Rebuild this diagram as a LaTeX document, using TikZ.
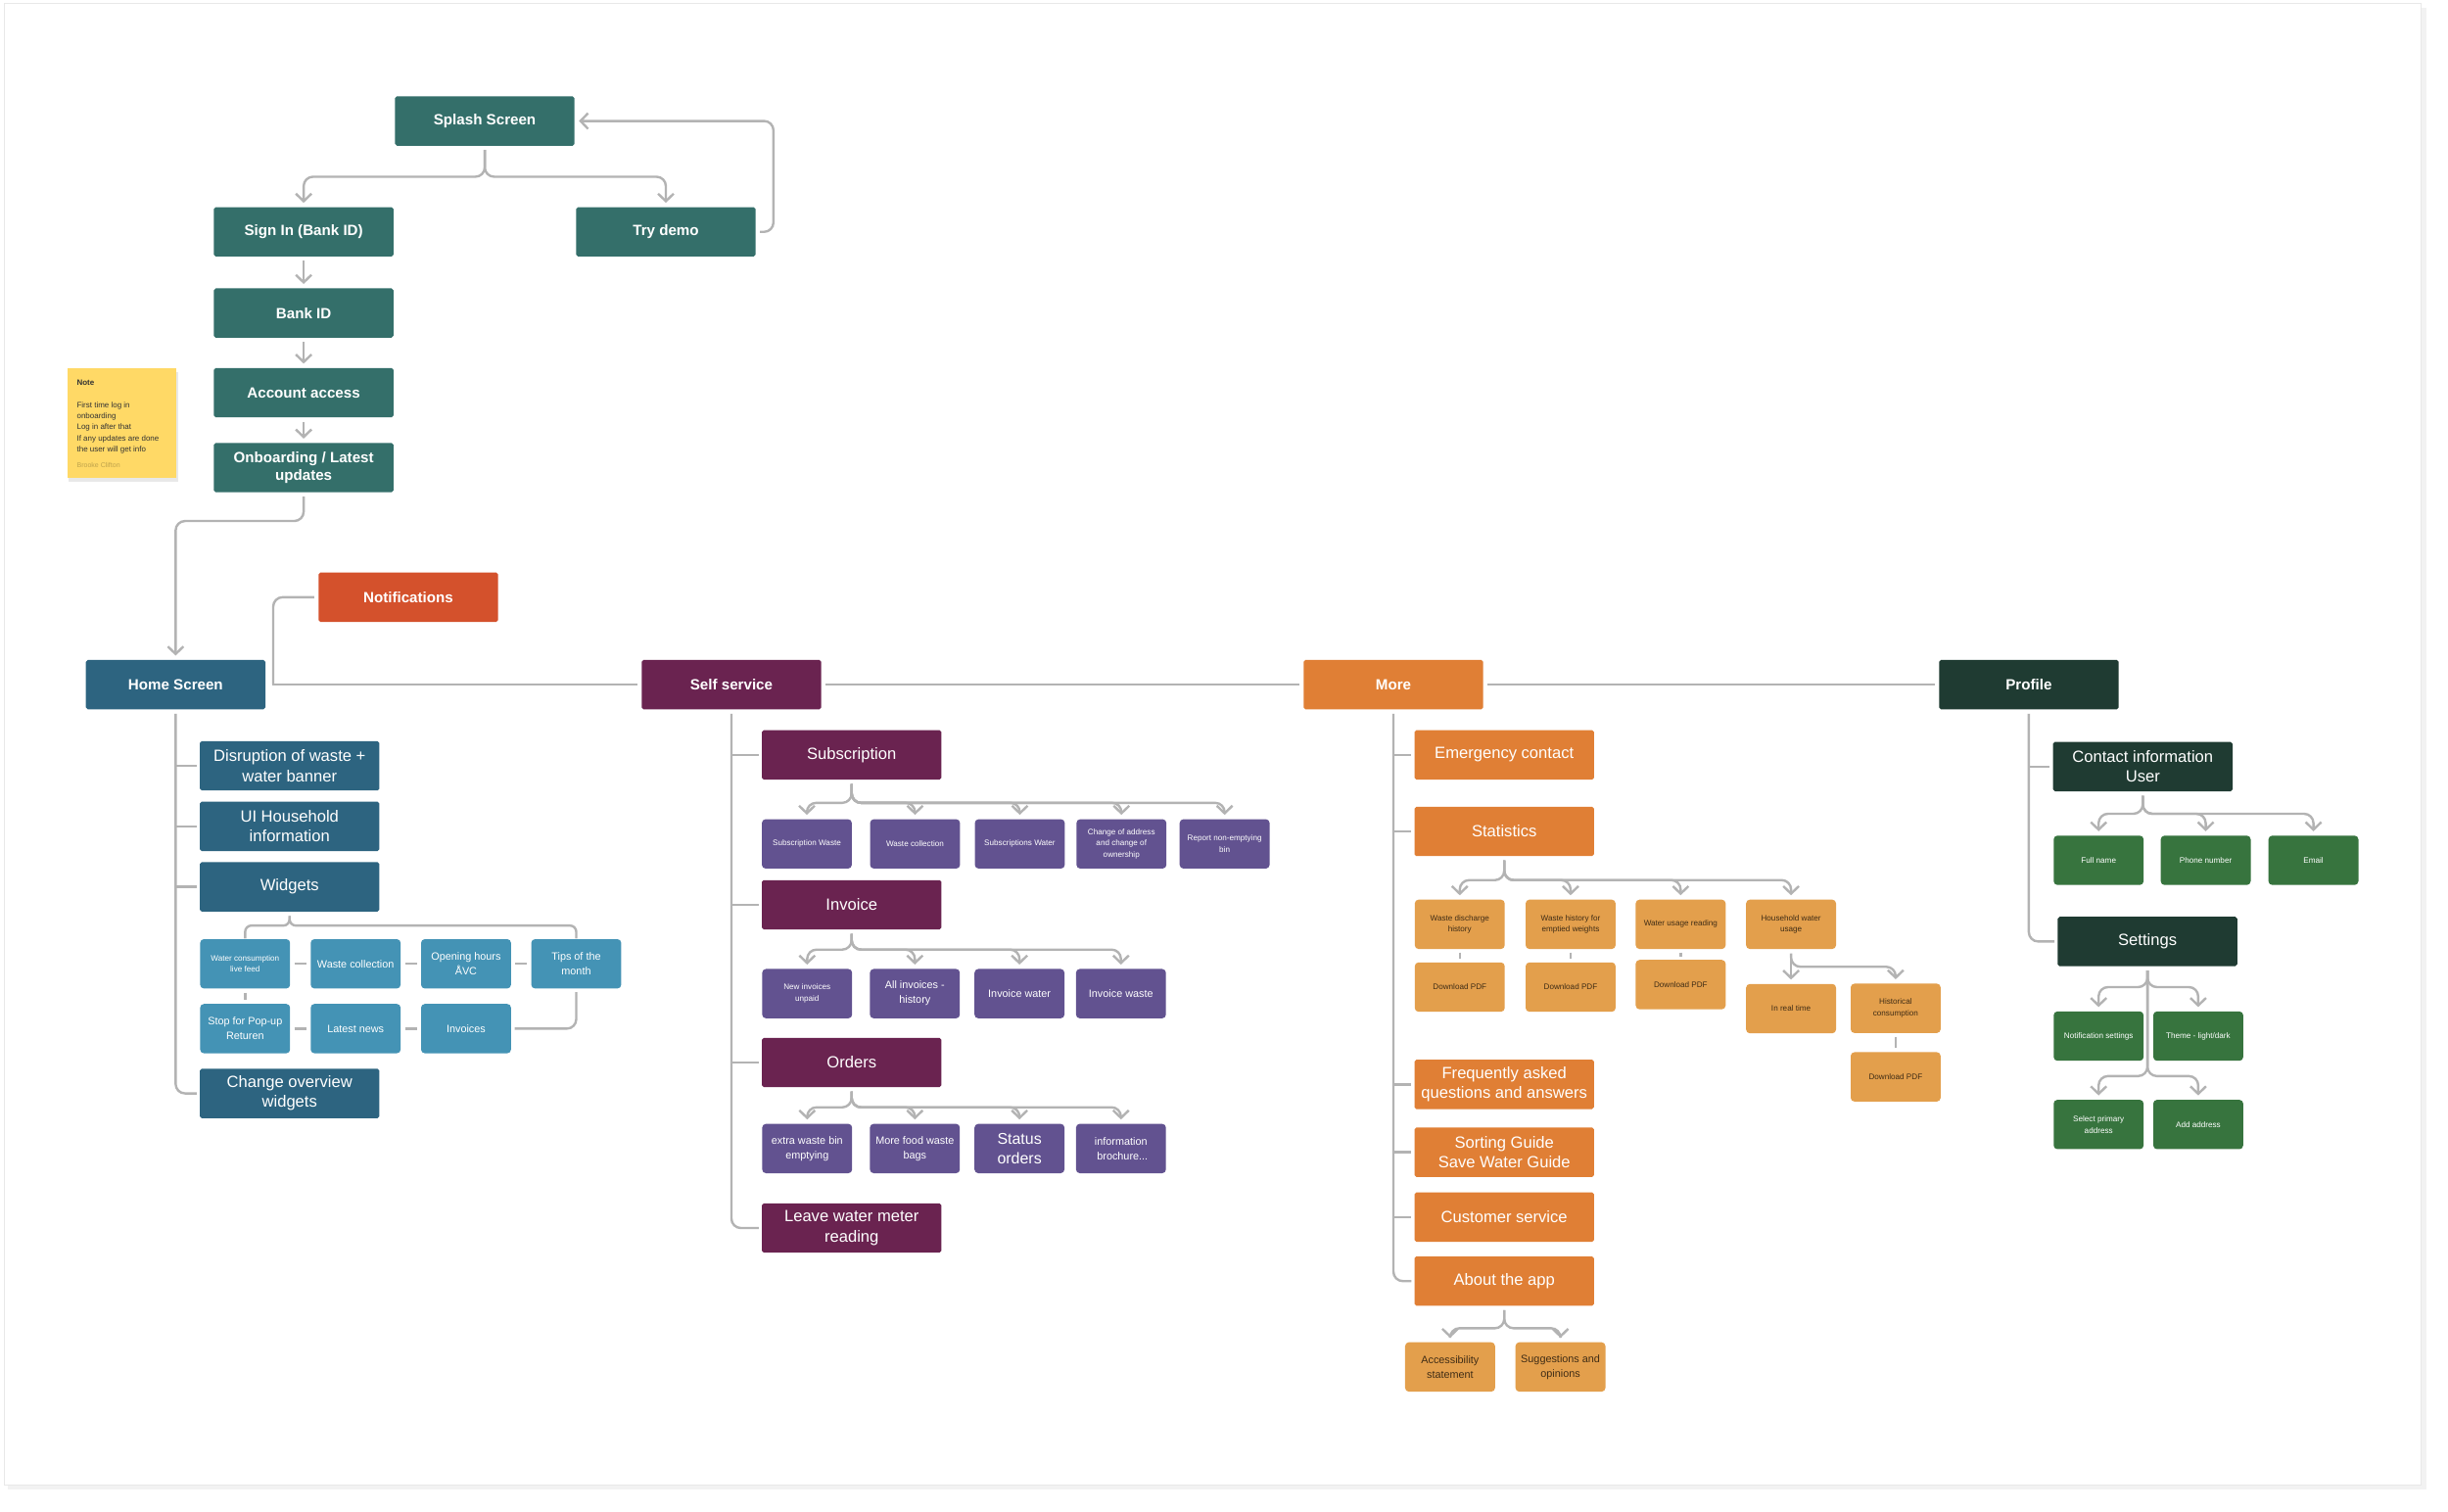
\documentclass[tikz,border=0pt]{standalone}
\usepackage{fontspec}
\setmainfont{Liberation Sans}
\usetikzlibrary{arrows.meta,calc,shadows}

\definecolor{cteal}{HTML}{346F6A}
\definecolor{chome}{HTML}{2D6480}
\definecolor{cwidget}{HTML}{4493B5}
\definecolor{cnotif}{HTML}{D4512C}
\definecolor{cself}{HTML}{6A2350}
\definecolor{csub}{HTML}{625290}
\definecolor{cmore}{HTML}{E07F35}
\definecolor{cstat}{HTML}{E39F4C}
\definecolor{cprof}{HTML}{1F3B32}
\definecolor{cgreen}{HTML}{37743E}
\definecolor{cline}{HTML}{B3B3B3}
\definecolor{cnote}{HTML}{FFD966}
\definecolor{cdarktext}{HTML}{3F2C15}

\newcommand\myfA{\fontsize{4.75}{5.6}\selectfont\bfseries}
\newcommand\myfB{\fontsize{5.2}{6.3}\selectfont}
\newcommand\myfC{\fontsize{3.4}{4.7}\selectfont}
\newcommand\myfD{\fontsize{2.55}{3.65}\selectfont}
\newcommand\myfS{\fontsize{5}{6.3}\selectfont}

\tikzset{
  box/.style={inner sep=0pt, align=center, text=white, minimum height=15.8pt},
  bigbox/.style={box, minimum width=57.5pt, rounded corners=0.6pt},
  leaf/.style={box, minimum width=28.8pt, rounded corners=1.2pt},
  topbox/.style={bigbox, fill=cteal, font=\myfA},
  wire/.style={draw=cline, line width=0.75pt, rounded corners=3pt},
  line/.style={wire, shorten <=1.2pt, shorten >=1.2pt},
  stub/.style={wire, shorten >=0.8pt},
  shortlink/.style={wire, shorten <=0.9pt, shorten >=0.9pt},
  arr/.style={line, -{Straight Barb[length=2.4pt,width=5pt]}},
}

\begin{document}
\begin{tikzpicture}[x=0.5pt,y=-0.5pt]
\useasboundingbox (0,0) rectangle (1568,968);
% canvas
\fill[black!5] (5,5) rectangle (1554,954);
\fill[white, draw=black!9, line width=0.3pt] (3,2) rectangle (1551,951);

% ---------- top flow ----------
\node[topbox] (splash) at (310.5,77.5) {Splash Screen};
\node[topbox] (signin) at (194.5,148.5) {Sign In (Bank ID)};
\node[topbox] (trydemo) at (426.5,148.5) {Try demo};
\node[topbox] (bankid) at (194.5,200.5) {Bank ID};
\node[topbox] (account) at (194.5,251.5) {Account access};
\node[topbox] (onb) at (194.5,299.5) {Onboarding / Latest\\updates};

\draw[arr] (splash.south) -- ++(0,19.5) -| (signin.north);
\draw[arr] (splash.south) -- ++(0,19.5) -| (trydemo.north);
\draw[arr] (trydemo.east) -- ++(11,0) |- (splash.east);
\draw[arr] (signin.south) -- (bankid.north);
\draw[arr] (bankid.south) -- (account.north);
\draw[arr] (account.south) -- (onb.north);

% note
\node[fill=cnote, minimum width=35pt, minimum height=35pt, inner sep=0pt,
      drop shadow={opacity=0.18, shadow xshift=0.6pt, shadow yshift=-1.2pt}] (note) at (78,271) {};
\node[anchor=west, inner sep=0pt, font=\fontsize{2.5}{3.4}\selectfont\bfseries, text=black!80] (notetitle) at (48.9,245.3) {Note};
\node[anchor=north west, align=left, inner sep=0pt, font=\fontsize{2.5}{3.5}\selectfont, text=black!80] (notetext) at (48.9,257.3)
  {First time log in\\onboarding\\Log in after that\\If any updates are done\\the user will get info};
\node[anchor=west, inner sep=0pt, font=\fontsize{2.2}{3}\selectfont, text=black!25!cnote] (noteauthor) at (48.9,297.9) {Brooke Clifton};

% ---------- main row ----------
\node[bigbox, fill=cnotif, font=\myfA] (notif) at (261.5,382.5) {Notifications};
\node[bigbox, fill=chome, font=\myfA] (home) at (112.5,438.5) {Home Screen};
\node[bigbox, fill=cself, font=\myfA] (self) at (468.5,438.5) {Self service};
\node[bigbox, fill=cmore, font=\myfA] (more) at (892.5,438.5) {More};
\node[bigbox, fill=cprof, font=\myfA] (profile) at (1299.5,438.5) {Profile};

\draw[arr] (onb.south) -- ++(0,18) -| (home.north);
\coordinate (nj) at (175,438.5);
\draw[wire, shorten <=1.2pt] (notif.west) -| (nj);
\draw[line, shorten <=2pt] (home.east) -- (self.west);
\draw[line] (self.east) -- (more.west);
\draw[line] (more.east) -- (profile.west);

% ---------- Home screen ----------
\node[bigbox, fill=chome, font=\myfB] (disr) at (185.5,490.5) {Disruption of waste +\\water banner};
\node[bigbox, fill=chome, font=\myfB] (uih) at (185.5,529.3) {UI Household\\information};
\node[bigbox, fill=chome, font=\myfB] (widgets) at (185.5,568) {Widgets};
\node[bigbox, fill=chome, font=\myfB] (chg) at (185.5,700.3) {Change overview\\widgets};

\draw[wire, shorten <=1.2pt, shorten >=0.8pt] (home.south) |- (chg.west);
\draw[stub] (home.south |- disr.west) -- (disr.west);
\draw[stub] (home.south |- uih.west) -- (uih.west);
\draw[stub] (home.south |- widgets.west) -- (widgets.west);

\node[leaf, fill=cwidget, font=\myfD] (w1) at (157,617.3) {Water consumption\\live feed};
\node[leaf, fill=cwidget, font=\myfC] (w2) at (227.8,617.3) {Waste collection};
\node[leaf, fill=cwidget, font=\myfC] (w3) at (298.5,617.3) {Opening hours\\ÅVC};
\node[leaf, fill=cwidget, font=\myfC] (w4) at (369.1,617.3) {Tips of the\\month};
\node[leaf, fill=cwidget, font=\myfC] (w5) at (157,658.8) {Stop for Pop-up\\Returen};
\node[leaf, fill=cwidget, font=\myfC] (w6) at (227.8,658.8) {Latest news};
\node[leaf, fill=cwidget, font=\myfC] (w7) at (298.5,658.8) {Invoices};

\draw[line, rounded corners=2pt, shorten >=0pt] (widgets.south) -- ++(0,8.6) -| (w1.north);
\draw[line, rounded corners=2pt, shorten >=0pt] (widgets.south) -- ++(0,8.6) -| (w4.north);
\draw[line] (w1.east) -- (w2.west);
\draw[line] (w2.east) -- (w3.west);
\draw[line] (w3.east) -- (w4.west);
\draw[line] (w5.east) -- (w6.west);
\draw[line] (w6.east) -- (w7.west);
\draw[line] (w1.south) -- (w5.north);
\draw[line, shorten <=1pt, shorten >=1pt] (w4.south) |- (w7.east);

% ---------- Self service ----------
\node[bigbox, fill=cself, font=\myfB] (sub) at (545.5,483.5) {Subscription};
\node[bigbox, fill=cself, font=\myfB] (inv) at (545.5,579.5) {Invoice};
\node[bigbox, fill=cself, font=\myfB] (ord) at (545.5,680.5) {Orders};
\node[bigbox, fill=cself, font=\myfB] (leave) at (545.5,786.5) {Leave water meter\\reading};

\draw[wire, shorten <=1.2pt, shorten >=0.8pt] (self.south) |- (leave.west);
\draw[stub] (self.south |- sub.west) -- (sub.west);
\draw[stub] (self.south |- inv.west) -- (inv.west);
\draw[stub] (self.south |- ord.west) -- (ord.west);

\node[leaf, fill=csub, font=\myfD] (s1) at (516.8,540.5) {Subscription Waste};
\node[leaf, fill=csub, font=\myfD] (s2) at (586.1,540.5) {Waste collection};
\node[leaf, fill=csub, font=\myfD] (s3) at (653.2,540.5) {Subscriptions Water};
\node[leaf, fill=csub, font=\myfD] (s4) at (718.3,540.5) {Change of address\\and change of\\ownership};
\node[leaf, fill=csub, font=\myfD] (s5) at (784.4,540.5) {Report non-emptying\\bin};
\foreach \t in {s1,s2,s3,s4,s5}
  \draw[arr] (sub.south) -- ++(0,14.5) -| (\t.north);

\node[leaf, fill=csub, font=\myfD] (i1) at (517,636.4) {New invoices\\unpaid};
\node[leaf, fill=csub, font=\myfC] (i2) at (586,636.4) {All invoices -\\history};
\node[leaf, fill=csub, font=\myfC] (i3) at (653,636.4) {Invoice water};
\node[leaf, fill=csub, font=\myfC] (i4) at (718,636.4) {Invoice waste};
\foreach \t in {i1,i2,i3,i4}
  \draw[arr] (inv.south) -- ++(0,12.5) -| (\t.north);

\node[leaf, fill=csub, font=\myfC] (o1) at (517,735.6) {extra waste bin\\emptying};
\node[leaf, fill=csub, font=\myfC] (o2) at (586,735.6) {More food waste\\bags};
\node[leaf, fill=csub, font=\myfS] (o3) at (653,735.6) {Status\\orders};
\node[leaf, fill=csub, font=\myfC] (o4) at (718,735.6) {information\\\ brochure...};
\foreach \t in {o1,o2,o3,o4}
  \draw[arr] (ord.south) -- ++(0,12.5) -| (\t.north);

% ---------- More ----------
\node[bigbox, fill=cmore, font=\myfB] (emerg) at (963.5,483.5) {Emergency contact};
\node[bigbox, fill=cmore, font=\myfB] (stats) at (963.5,532.5) {Statistics};
\node[bigbox, fill=cmore, font=\myfB] (faq) at (963.5,694.5) {Frequently asked\\questions and answers};
\node[bigbox, fill=cmore, font=\myfB] (sort) at (963.5,738) {Sorting Guide\\Save Water Guide};
\node[bigbox, fill=cmore, font=\myfB] (cust) at (963.5,779.5) {Customer service};
\node[bigbox, fill=cmore, font=\myfB] (about) at (963.5,820.5) {About the app};

\draw[wire, shorten <=1.2pt, shorten >=0.8pt] (more.south) |- (about.west);
\foreach \t in {emerg,stats,faq,sort,cust}
  \draw[stub] (more.south |- \t.west) -- (\t.west);

\tikzset{sleaf/.style={leaf, fill=cstat, text=cdarktext, font=\myfD}}
\node[sleaf] (st1) at (935,592) {Waste discharge\\history};
\node[sleaf] (st2) at (1006,592) {Waste history for\\emptied weights};
\node[sleaf] (st3) at (1076.5,592) {Water usage reading};
\node[sleaf] (st4) at (1147.2,592) {Household water\\usage};
\node[sleaf] (d1) at (935,632.2) {Download PDF};
\node[sleaf] (d2) at (1006,632.2) {Download PDF};
\node[sleaf] (d3) at (1076.5,630.6) {Download PDF};
\node[sleaf] (rt) at (1147.2,646) {In real time};
\node[sleaf] (hist) at (1214.2,645.8) {Historical\\consumption};
\node[sleaf] (hd) at (1214.2,689.7) {Download PDF};

\foreach \t in {st1,st2,st3,st4}
  \draw[arr] (stats.south) -- ++(0,15) -| (\t.north);
\draw[shortlink] (st1.south) -- (d1.north);
\draw[shortlink] (st2.south) -- (d2.north);
\draw[shortlink] (st3.south) -- (d3.north);
\draw[arr] (st4.south) -- (rt.north);
\draw[arr] (st4.south) -- ++(0,11) -| (hist.north);
\draw[line] (hist.south) -- (hd.north);

\node[leaf, fill=cstat, text=cdarktext, font=\myfC] (a1) at (928.8,875.5) {Accessibility\\statement};
\node[leaf, fill=cstat, text=cdarktext, font=\myfC] (a2) at (999.5,875.5) {Suggestions and\\opinions};
\draw[arr] (about.south) -- ++(0,14) -| (a1.north);
\draw[arr] (about.south) -- ++(0,14) -| (a2.north);

% ---------- Profile ----------
\node[bigbox, fill=cprof, font=\myfB] (contact) at (1372.5,491) {Contact information\\User};
\node[bigbox, fill=cprof, font=\myfB] (settings) at (1375.5,603) {Settings};

\draw[wire, shorten <=1.2pt, shorten >=0.8pt] (profile.south) |- (settings.west);
\draw[stub] (profile.south |- contact.west) -- (contact.west);

\node[leaf, fill=cgreen, font=\myfD] (c1) at (1344.2,551) {Full name};
\node[leaf, fill=cgreen, font=\myfD] (c2) at (1412.8,551) {Phone number};
\node[leaf, fill=cgreen, font=\myfD] (c3) at (1481.8,551) {Email};
\foreach \t in {c1,c2,c3}
  \draw[arr] (contact.south) -- ++(0,14) -| (\t.north);

\node[leaf, fill=cgreen, font=\myfD] (n1) at (1344.2,663.6) {Notification settings};
\node[leaf, fill=cgreen, font=\myfD] (n2) at (1408,663.6) {Theme - light/dark};
\node[leaf, fill=cgreen, font=\myfD] (n3) at (1344.2,720.2) {Select primary\\address};
\node[leaf, fill=cgreen, font=\myfD] (n4) at (1408,720.2) {Add address};
\draw[arr] (settings.south) -- ++(0,13) -| (n1.north);
\draw[arr] (settings.south) -- ++(0,13) -| (n2.north);
\draw[arr] (settings.south) -- ++(0,70) -| (n3.north);
\draw[arr] (settings.south) -- ++(0,70) -| (n4.north);
\end{tikzpicture}
\end{document}
